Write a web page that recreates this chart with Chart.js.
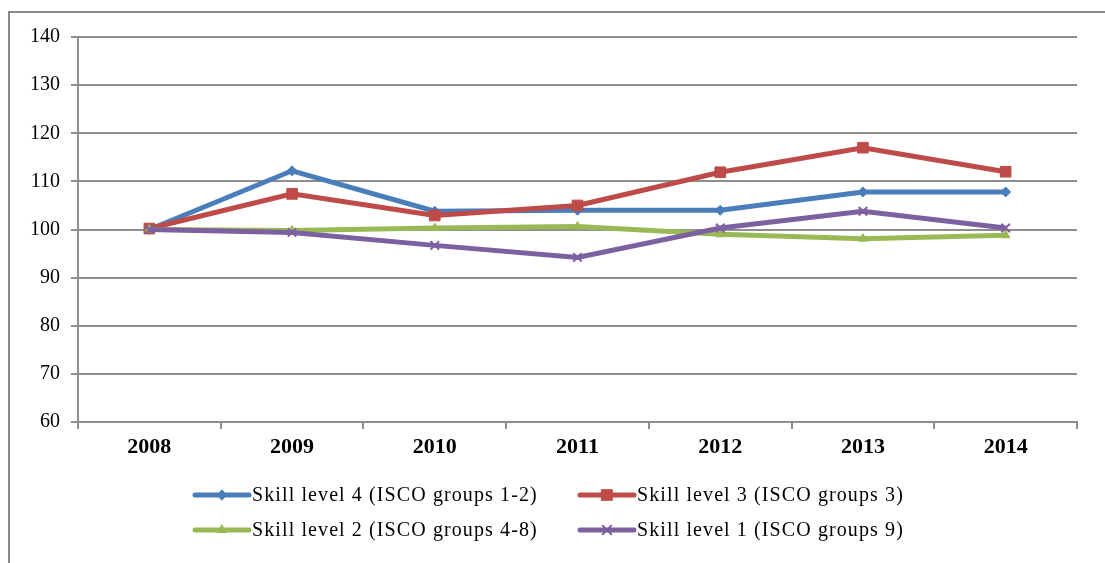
<!DOCTYPE html>
<html><head><meta charset="utf-8">
<script src="https://cdn.jsdelivr.net/npm/chart.js@4/dist/chart.umd.min.js"></script>
<style>html,body{margin:0;padding:0;background:#fff;} #wrap{position:relative;width:1105px;height:563px;}</style>
</head><body><div id="wrap"><canvas id="c"></canvas></div>
<script>
const categories = ['2008', '2009', '2010', '2011', '2012', '2013', '2014'];
const skill4 = [100.0, 112.2, 103.8, 104.0, 104.0, 107.8, 107.8];
const skill3 = [100.2, 107.4, 102.9, 105.0, 111.9, 117.0, 112.0];
const skill2 = [100.0, 99.8, 100.3, 100.6, 99.0, 98.1, 98.8];
const skill1 = [100.0, 99.4, 96.7, 94.2, 100.3, 103.8, 100.3];
const seriesLabels = [
  'Skill level 4 (ISCO groups 1-2)',
  'Skill level 3 (ISCO groups 3)',
  'Skill level 2 (ISCO groups 4-8)',
  'Skill level 1 (ISCO groups 9)'
];
const yTickValues = [60, 70, 80, 90, 100, 110, 120, 130, 140];

const GRID = '#8e8e8e';
const SERIF = '"Liberation Serif", "Times New Roman", serif';

const frameAndLegend = {
  id: 'frameAndLegend',
  beforeDraw(chart) {
    const ctx = chart.ctx;
    ctx.save();
    ctx.fillStyle = '#fff';
    ctx.fillRect(0, 0, chart.width, chart.height);
    ctx.strokeStyle = '#8a8a8a';
    ctx.lineWidth = 2;
    ctx.beginPath();
    ctx.moveTo(9, chart.height);
    ctx.lineTo(9, 12);
    ctx.lineTo(chart.width, 12);
    ctx.stroke();
    ctx.restore();
  },
  afterDraw(chart) {
    const ctx = chart.ctx;
    const cols = [193, 578], rows = [495, 530];
    chart.data.datasets.forEach((ds, i) => {
      const x = cols[i % 2], y = rows[Math.floor(i / 2)];
      ctx.save();
      ctx.strokeStyle = ds.borderColor;
      ctx.lineWidth = ds.borderWidth;
      ctx.lineCap = 'round';
      ctx.beginPath();
      ctx.moveTo(x + 2, y);
      ctx.lineTo(x + 56, y);
      ctx.stroke();
      ctx.fillStyle = ds.pointBackgroundColor;
      ctx.strokeStyle = ds.pointBorderColor;
      ctx.lineWidth = ds.pointBorderWidth;
      Chart.helpers.drawPoint(ctx, {pointStyle: ds.pointStyle, radius: ds.pointRadius, borderWidth: ds.pointBorderWidth, rotation: 0}, x + 29, y);
      ctx.fillStyle = '#000';
      ctx.font = '20px ' + SERIF;
      try { ctx.letterSpacing = '1.1px'; } catch (e) {}
      ctx.textBaseline = 'middle';
      ctx.textAlign = 'left';
      ctx.fillText(ds.label, x + 59, y + 1);
      ctx.restore();
    });
  }
};

function mk(label, data, color, style, radius, bw, order) {
  return {
    label, data, order,
    borderColor: color, backgroundColor: color,
    borderWidth: 5, tension: 0,
    pointStyle: style, pointRadius: radius, pointHoverRadius: radius,
    pointBackgroundColor: color, pointBorderColor: color, pointBorderWidth: bw
  };
}

new Chart(document.getElementById('c'), {
  type: 'line',
  data: {
    labels: categories,
    datasets: [
      mk(seriesLabels[0], skill4, '#4A7EBB', 'rectRot', 5, 1, 4),
      mk(seriesLabels[1], skill3, '#BE4B48', 'rect', 7.5, 1, 3),
      mk(seriesLabels[2], skill2, '#98B954', 'triangle', 5, 1, 2),
      mk(seriesLabels[3], skill1, '#7D60A0', 'crossRot', 6, 2, 1)
    ]
  },
  options: {
    responsive: true,
    maintainAspectRatio: false,
    animation: false,
    layout: {padding: {top: 37, right: 28, left: 0, bottom: 0}},
    plugins: {legend: {display: false}, tooltip: {enabled: false}},
    scales: {
      x: {
        offset: true,
        grid: {offset: true, drawOnChartArea: false, drawTicks: true, tickLength: 7, color: GRID, lineWidth: 2},
        border: {display: true, color: GRID, width: 2},
        ticks: {font: {family: SERIF, size: 22, weight: 'bold'}, color: '#000', padding: 5, maxRotation: 0},
        afterFit(s) { s.height = 141; }
      },
      y: {
        min: yTickValues[0], max: yTickValues[yTickValues.length - 1],
        afterBuildTicks(s) { s.ticks = yTickValues.map(v => ({value: v})); },
        ticks: {font: {family: SERIF, size: 20}, color: '#000', padding: 11},
        grid: {color: GRID, lineWidth: 2, tickLength: 7},
        border: {display: true, color: GRID, width: 2},
        afterFit(s) { s.width = 78; }
      }
    }
  },
  plugins: [frameAndLegend]
});
</script>
</body></html>
